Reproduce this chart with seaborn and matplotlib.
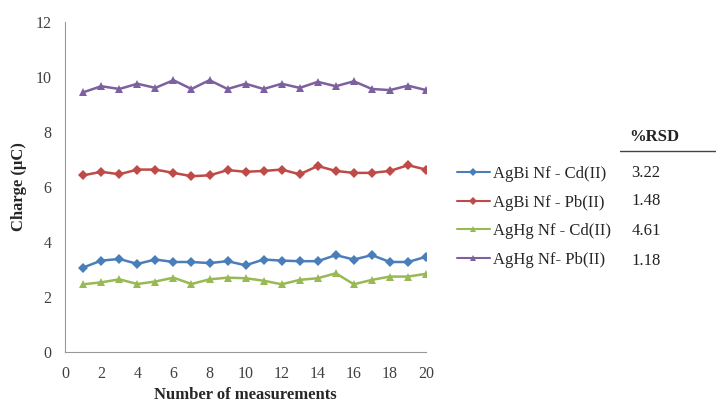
import numpy as np
import pandas as pd
import matplotlib.pyplot as plt
from matplotlib.lines import Line2D
import seaborn as sns

sns.set_style("white")
plt.rcParams['font.family'] = ['Liberation Serif', 'DejaVu Serif']

# Data
measurements = list(range(1, 21))
agbi_cd = [3.07, 3.32, 3.38, 3.20, 3.36, 3.27, 3.27, 3.23, 3.30, 3.15,
           3.36, 3.32, 3.30, 3.30, 3.52, 3.36, 3.52, 3.27, 3.27, 3.46]
agbi_pb = [6.42, 6.55, 6.46, 6.63, 6.63, 6.51, 6.39, 6.42, 6.61, 6.55,
           6.58, 6.63, 6.46, 6.76, 6.58, 6.51, 6.51, 6.58, 6.79, 6.63]
aghg_cd = [2.46, 2.53, 2.64, 2.47, 2.56, 2.70, 2.47, 2.64, 2.70, 2.68,
           2.59, 2.46, 2.62, 2.68, 2.86, 2.46, 2.62, 2.74, 2.74, 2.84]
aghg_pb = [9.44, 9.66, 9.56, 9.75, 9.60, 9.88, 9.56, 9.88, 9.56, 9.75,
           9.56, 9.75, 9.60, 9.82, 9.66, 9.84, 9.56, 9.52, 9.68, 9.52]
series_names = ["AgBi Nf - Cd(II)", "AgBi Nf - Pb(II)", "AgHg Nf - Cd(II)", "AgHg Nf- Pb(II)"]
rsd_values = ["3.22", "1.48", "4.61", "1.18"]

colors = ["#4a7ebb", "#be4b48", "#98b954", "#7d60a0"]
markers = ["D", "D", "^", "^"]

df = pd.DataFrame({
    "n": measurements * 4,
    "charge": agbi_cd + agbi_pb + aghg_cd + aghg_pb,
    "series": np.repeat(series_names, len(measurements)),
})

fig = plt.figure(figsize=(7.16, 4.05), dpi=100)
ax = fig.add_axes([0.091, 0.131, 0.504, 0.815])

sns.lineplot(data=df, x="n", y="charge", hue="series", style="series",
             palette=dict(zip(series_names, colors)),
             markers=dict(zip(series_names, markers)),
             dashes=False, markersize=5.5, markeredgewidth=0, linewidth=1.8,
             ax=ax, legend=False)

ax.set_xlim(0, 20)
ax.set_ylim(0, 12)
ax.set_xticks(range(0, 21, 2))
ax.set_yticks(range(0, 13, 2))
ax.tick_params(axis="both", labelsize=11.5, labelcolor="#404040", length=4, width=0.8,
               direction="out", color="#999999")
ax.tick_params(axis="x", pad=6)
ax.tick_params(axis="y", pad=6)
sns.despine(ax=ax)
ax.spines["left"].set_color("#999999")
ax.spines["bottom"].set_color("#999999")
ax.set_xlabel("Number of measurements", fontsize=12, fontweight="bold", labelpad=4)
ax.set_ylabel("Charge (µC)", fontsize=12, fontweight="bold", labelpad=6)

# Legend with RSD column
handles = [Line2D([], [], color=c, marker=m, markersize=4, markeredgewidth=0, linewidth=1.5)
           for c, m in zip(colors, markers)]
fig.legend(handles, series_names, loc="upper left", bbox_to_anchor=(0.617, 0.627),
           frameon=False, fontsize=12, handlelength=2.0, handletextpad=0.15,
           labelspacing=0.75)

ys = [173, 201, 231, 261]
for v, y in zip(rsd_values, ys):
    fig.text(646 / 716, 1 - y / 405, v, ha="center", va="center", fontsize=12, color="#222222")
fig.text(654 / 716, 1 - 137 / 405, "%RSD", ha="center", va="center", fontsize=12,
         fontweight="bold", color="#222222")
fig.add_artist(Line2D([620 / 716, 716 / 716], [1 - 151 / 405, 1 - 151 / 405],
                      color="#444444", linewidth=1))

plt.savefig("out.png", dpi=100)
